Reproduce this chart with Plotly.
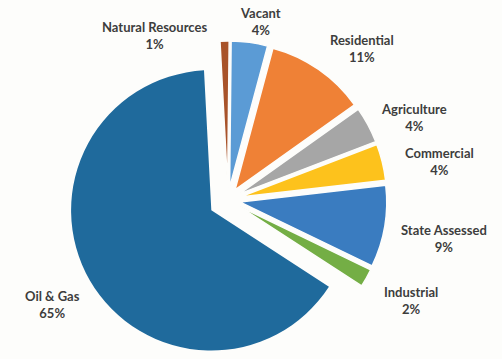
import plotly.graph_objects as go

# Data (clockwise from 12 o'clock)
categories = ["Natural Resources", "Vacant", "Residential", "Agriculture",
              "Commercial", "State Assessed", "Industrial", "Oil & Gas"]
shares = [1, 4, 11, 4, 4, 9, 2, 65]

# Styles
colors = ["#a8532a", "#5b9bd5", "#ef8136", "#a6a6a6",
          "#fdc21c", "#3a7cc0", "#74ae45", "#1f6a9c"]
big_slice = "Oil & Gas"
# label box centres (paper coords)
label_pos = [(0.307, 0.900), (0.518, 0.939), (0.721, 0.864), (0.825, 0.674),
             (0.876, 0.549), (0.884, 0.337), (0.819, 0.162), (0.104, 0.153)]

TRANSPARENT = "rgba(0,0,0,0)"

fig = go.Figure()

# small slices (slightly larger radius, exploded)
fig.add_trace(go.Pie(
    labels=categories, values=shares, sort=False,
    direction="clockwise", rotation=-3,
    pull=[0 if c == big_slice else 0.085 for c in categories],
    marker=dict(colors=[TRANSPARENT if c == big_slice else col
                        for c, col in zip(categories, colors)],
                line=dict(width=[0 if c == big_slice else 1.5 for c in categories],
                          color="#fdfdfb")),
    textinfo="none", hoverinfo="label+percent", showlegend=False,
    domain=dict(x=[0.124, 0.784], y=[0.0, 0.8858]),
))

# the dominant slice
fig.add_trace(go.Pie(
    labels=categories, values=shares, sort=False,
    direction="clockwise", rotation=-3,
    pull=[0.12 if c == big_slice else 0 for c in categories],
    marker=dict(colors=[col if c == big_slice else TRANSPARENT
                        for c, col in zip(categories, colors)],
                line=dict(width=0)),
    textinfo="none", hoverinfo="label+percent", showlegend=False,
    domain=dict(x=[0.10, 0.80], y=[0.0, 0.875]),
))

for cat, val, (px, py) in zip(categories, shares, label_pos):
    fig.add_annotation(
        x=px, y=py, xref="paper", yref="paper",
        text=f"<b>{cat}</b><br><b>{val}%</b>",
        showarrow=False,
        font=dict(family="Lato", size=13, color="#3d3d3d"),
        align="center", xanchor="center", yanchor="middle",
    )

fig.update_layout(
    width=502, height=359,
    margin=dict(l=0, r=0, t=0, b=0),
    paper_bgcolor="#fdfdfb", plot_bgcolor="#fdfdfb",
)

fig.write_html("out.html")
